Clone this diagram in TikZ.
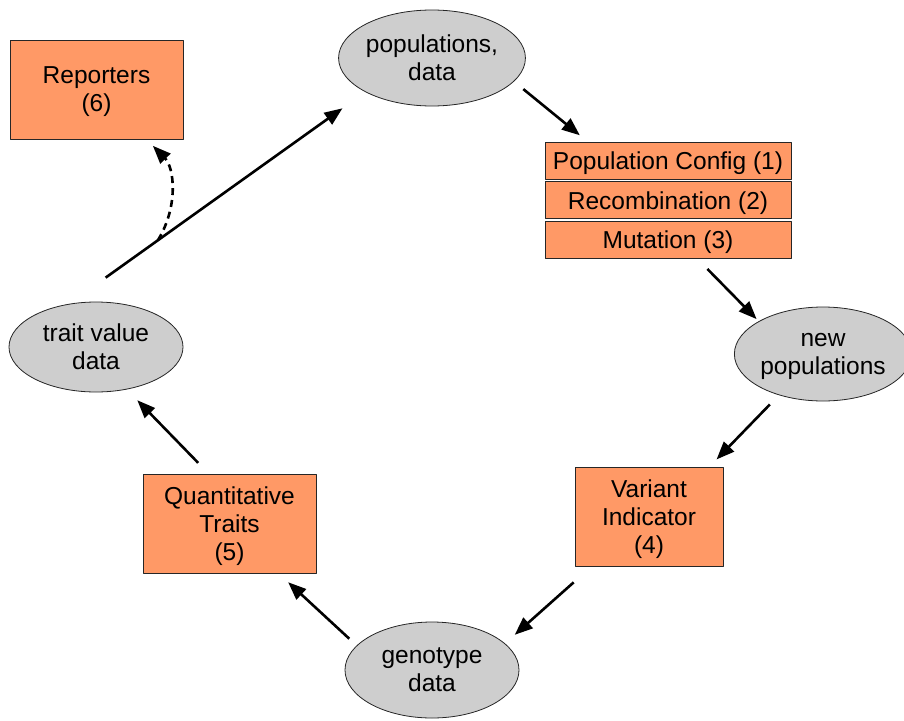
\documentclass[tikz,border=0pt]{standalone}
\usepackage{fontspec}
\setmainfont{Liberation Sans}
\usetikzlibrary{positioning,shapes.geometric,arrows.meta}
\definecolor{boxorange}{RGB}{255,153,102}
\definecolor{blobgray}{RGB}{206,206,206}
\begin{document}
\begin{tikzpicture}[x=1pt, y=-1pt, font=\fontsize{24.5}{28}\selectfont, line join=round,
	box/.style={draw=black!85, line width=0.8pt, fill=boxorange, inner sep=0pt, text depth=0pt, align=center},
	blob/.style={ellipse, draw=black!85, line width=0.8pt, fill=blobgray, inner sep=0pt, text depth=0pt, minimum width=174pt, align=center},
	arr/.style={line width=2.6pt, -{Triangle[length=18pt,width=14pt]}}]
	\useasboundingbox (0,0) rectangle (904,720);
	% data ellipses
	\node[blob, minimum height=96pt] (pop) at (432,58) {populations,\\data};
	\node[blob, minimum height=94pt] (newpop) at (823,354) {new\\populations};
	\node[blob, minimum height=96pt] (geno) at (432,670) {genotype\\data};
	\node[blob, minimum height=90pt] (trait) at (96,347) {trait value\\data};
	% operators
	\node[box, minimum width=246pt, minimum height=37pt] (config) at (668,160.5) {Population Config (1)};
	\node[box, minimum width=246pt, minimum height=37pt, below=2pt of config] (recomb) {Recombination (2)};
	\node[box, minimum width=246pt, minimum height=37pt, below=2pt of recomb] (mut) {Mutation (3)};
	\node[box, minimum width=148pt, minimum height=99pt] (variant) at (649,516.5) {Variant\\Indicator\\(4)};
	\node[box, minimum width=173pt, minimum height=99pt] (quant) at (229.5,523.5) {Quantitative\\Traits\\(5)};
	\node[box, minimum width=173pt, minimum height=99pt] (rep) at (96.5,89.5) {Reporters\\(6)};
	% evolution cycle
	\draw[arr, shorten <=45pt, shorten >=28pt] (trait.122) -- coordinate[pos=0.3] (tap) (pop.207);
	\draw[arr, shorten <=12pt, shorten >=10pt] (pop.-16.5) -- ([xshift=43pt]config.north west);
	\draw[arr, shorten <=14pt, shorten >=3pt] ([xshift=153pt]mut.south west) -- (newpop.153);
	\draw[arr, shorten <=13pt, shorten >=10pt] (newpop.223) -- ([xshift=135pt]variant.north west);
	\draw[arr, shorten <=24pt, shorten >=13pt] ([xshift=17pt]variant.south west) -- (geno.20);
	\draw[arr, shorten <=10pt, shorten >=13pt] (geno.162) -- ([xshift=136pt]quant.south west);
	\draw[arr, shorten <=15pt, shorten >=15pt] ([xshift=66pt]quant.north west) -- (trait.306);
	\draw[arr, dash pattern=on 7pt off 5pt, shorten >=9pt] (tap) to[bend right=38] ([xshift=137pt]rep.south west);
\end{tikzpicture}
\end{document}
